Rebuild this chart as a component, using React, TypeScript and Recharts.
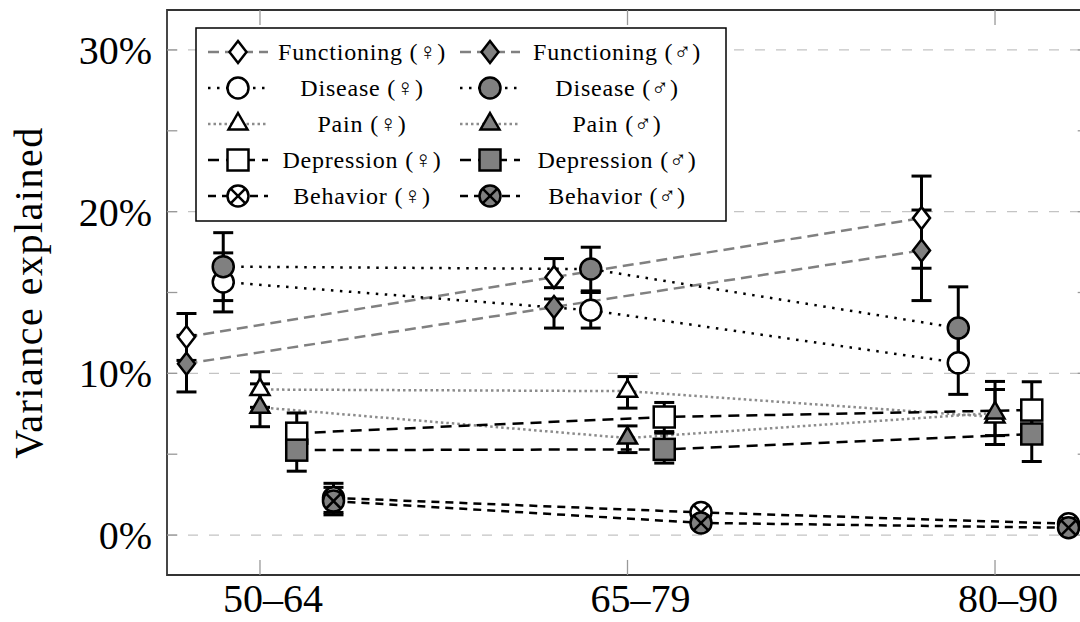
import {
  LineChart,
  Line,
  XAxis,
  YAxis,
  CartesianGrid,
  ErrorBar,
  ReferenceArea,
  ReferenceLine,
} from 'recharts';

// age groups on the x axis
const ageGroups = ['50–64', '65–79', '80–90'];
const yTicks = [0, 10, 20, 30];
const yMinorTicks = [5, 15, 25];

// variance explained (%) and [low, high] errors, read per age group
const functioningF = [12.25, 15.95, 19.6];
const functioningFErr = [[1.45, 1.45], [0.65, 1.15], [3.1, 2.6]];
const functioningM = [10.6, 14.1, 17.6];
const functioningMErr = [[1.75, 1.75], [1.3, 0.5], [3.1, 2.5]];
const diseaseF = [15.65, 13.9, 10.65];
const diseaseFErr = [[1.85, 1.8], [1.1, 1.1], [1.95, 1.95]];
const diseaseM = [16.6, 16.45, 12.8];
const diseaseMErr = [[2.1, 2.1], [1.35, 1.35], [2.55, 2.55]];
const painF = [9.0, 8.9, 7.3];
const painFErr = [[1.1, 1.1], [1.05, 0.9], [1.7, 1.7]];
const painM = [7.9, 6.0, 7.55];
const painMErr = [[1.2, 1.45], [0.9, 0.75], [1.4, 1.95]];
const depressionF = [6.3, 7.3, 7.73];
const depressionFErr = [[1.25, 1.25], [0.9, 0.9], [1.75, 1.75]];
const depressionM = [5.25, 5.3, 6.25];
const depressionMErr = [[1.3, 1.3], [0.85, 1.0], [1.7, 1.7]];
const behaviorF = [2.3, 1.4, 0.7];
const behaviorFErr = [[0.9, 0.9], [0.3, 0.3], [0.25, 0.25]];
const behaviorM = [2.1, 0.75, 0.45];
const behaviorMErr = [[0.85, 0.85], [0.3, 0.3], [0.25, 0.25]];

const FONT = '"Liberation Serif", "DejaVu Serif", serif';
const X_DOMAIN: [number, number] = [-0.253, 2.253];
const Y_DOMAIN: [number, number] = [-2.47, 32.47];
const FEMALE_FILL = '#ffffff';
const MALE_FILL = '#808080';

type Shape = 'diamond' | 'circle' | 'triangle' | 'square' | 'otimes';

interface Domain {
  name: string;
  shape: Shape;
  stroke: string;
  dash: string;
  offset: number;
  female: number[];
  femaleErr: number[][];
  male: number[];
  maleErr: number[][];
}

const domains: Domain[] = [
  { name: 'Functioning', shape: 'diamond', stroke: '#808080', dash: '11 6', offset: -0.2, female: functioningF, femaleErr: functioningFErr, male: functioningM, maleErr: functioningMErr },
  { name: 'Disease', shape: 'circle', stroke: '#000000', dash: '2.5 6.5', offset: -0.1, female: diseaseF, femaleErr: diseaseFErr, male: diseaseM, maleErr: diseaseMErr },
  { name: 'Pain', shape: 'triangle', stroke: '#8c8c8c', dash: '2.5 3', offset: 0, female: painF, femaleErr: painFErr, male: painM, maleErr: painMErr },
  { name: 'Depression', shape: 'square', stroke: '#000000', dash: '11 7', offset: 0.1, female: depressionF, femaleErr: depressionFErr, male: depressionM, maleErr: depressionMErr },
  { name: 'Behavior', shape: 'otimes', stroke: '#000000', dash: '8 6', offset: 0.2, female: behaviorF, femaleErr: behaviorFErr, male: behaviorM, maleErr: behaviorMErr },
];

const Marker = ({ shape, cx, cy, fill }: { shape: Shape; cx: number; cy: number; fill: string }) => {
  const common = { fill, stroke: '#000', strokeWidth: 2.5 };
  if (cx == null || cy == null) return null;
  switch (shape) {
    case 'diamond':
      return <polygon {...common} points={`${cx},${cy - 11} ${cx + 8.5},${cy} ${cx},${cy + 11} ${cx - 8.5},${cy}`} />;
    case 'circle':
      return <circle {...common} cx={cx} cy={cy} r={10.5} />;
    case 'triangle':
      return <polygon {...common} points={`${cx},${cy - 11} ${cx + 9.5},${cy + 5.5} ${cx - 9.5},${cy + 5.5}`} />;
    case 'square':
      return <rect {...common} x={cx - 10.5} y={cy - 10.5} width={21} height={21} />;
    default: {
      const d = 7.4;
      return (
        <g>
          <circle {...common} cx={cx} cy={cy} r={10.5} />
          <line x1={cx - d} y1={cy - d} x2={cx + d} y2={cy + d} stroke="#000" strokeWidth={2.5} />
          <line x1={cx - d} y1={cy + d} x2={cx + d} y2={cy - d} stroke="#000" strokeWidth={2.5} />
        </g>
      );
    }
  }
};

const series = domains.flatMap((d) => [
  { key: `${d.name}-f`, domain: d, fill: FEMALE_FILL, label: `${d.name} (♀)`, values: d.female, errs: d.femaleErr },
  { key: `${d.name}-m`, domain: d, fill: MALE_FILL, label: `${d.name} (♂)`, values: d.male, errs: d.maleErr },
]);

const XTick = ({ x, y, payload }: any) => (
  <text x={x + 13} y={y + 35} textAnchor="middle" fontFamily={FONT} fontSize={40} fill="#000">
    {ageGroups[payload.value]}
  </text>
);

const YTick = ({ x, y, payload }: any) => (
  <text x={x} y={y} dy="0.35em" textAnchor="end" fontFamily={FONT} fontSize={40} fill="#000">
    {`${payload.value}%`}
  </text>
);

const YLabel = ({ viewBox }: any) => {
  const cx = (viewBox?.x ?? 0) + 42;
  const cy = (viewBox?.y ?? 0) + (viewBox?.height ?? 0) / 2;
  return (
    <text
      x={cx}
      y={cy}
      transform={`rotate(-90, ${cx}, ${cy})`}
      textAnchor="middle"
      fontFamily={FONT}
      fontSize={40}
      letterSpacing={1.5}
      fill="#000"
    >
      Variance explained
    </text>
  );
};

const LegendBox = () => {
  const rowH = 36;
  const colX = [0, 252];
  return (
    <svg
      width={532}
      height={195}
      style={{ position: 'absolute', left: 195, top: 27, fontFamily: FONT }}
    >
      <rect x={1} y={1} width={530} height={193} fill="#fff" stroke="#000" strokeWidth={1.5} />
      {series.map((s, i) => {
        const row = Math.floor(i / 2);
        const col = i % 2;
        const y = 25 + row * rowH;
        const x0 = colX[col] + 13;
        return (
          <g key={s.key}>
            <line x1={x0} y1={y} x2={x0 + 60} y2={y} stroke={s.domain.stroke} strokeWidth={2.5} strokeDasharray={s.domain.dash} />
            <Marker shape={s.domain.shape} cx={x0 + 30} cy={y} fill={s.fill} />
            <text
              x={colX[col] + 167 + col * 3}
              y={y}
              dy="0.33em"
              textAnchor="middle"
              fontFamily={FONT}
              fontSize={24}
              letterSpacing={0.8}
              fill="#000"
            >
              {s.label}
            </text>
          </g>
        );
      })}
    </svg>
  );
};

export default function App() {
  return (
    <div style={{ position: 'absolute', left: 0, top: 0, width: 1080, height: 622, overflow: 'hidden', background: '#fff' }}>
      <LineChart width={1100} height={622} margin={{ top: 10, right: 12, bottom: 0, left: 0 }}>
        <CartesianGrid vertical={false} stroke="#c4c4c4" strokeWidth={1.3} strokeDasharray="10 11" />
        <XAxis
          type="number"
          dataKey="x"
          domain={X_DOMAIN}
          ticks={[0, 1, 2]}
          allowDataOverflow
          height={47}
          axisLine={false}
          tickLine={false}
          tickSize={0}
          tick={<XTick />}
        />
        <YAxis
          type="number"
          domain={Y_DOMAIN}
          ticks={yTicks}
          allowDataOverflow
          width={167}
          axisLine={false}
          tickLine={false}
          tickSize={0}
          tickMargin={15}
          tick={<YTick />}
          label={<YLabel />}
        />
        {ageGroups.map((_, i) => (
          <ReferenceLine key={`xb${i}`} segment={[{ x: i, y: Y_DOMAIN[0] }, { x: i, y: Y_DOMAIN[0] + 0.93 }]} stroke="#999" strokeWidth={1.3} />
        ))}
        {ageGroups.map((_, i) => (
          <ReferenceLine key={`xt${i}`} segment={[{ x: i, y: Y_DOMAIN[1] }, { x: i, y: Y_DOMAIN[1] - 0.93 }]} stroke="#999" strokeWidth={1.3} />
        ))}
        {[...yTicks, ...yMinorTicks].map((v) => (
          <ReferenceLine key={`yl${v}`} segment={[{ x: X_DOMAIN[0], y: v }, { x: X_DOMAIN[0] + 0.028, y: v }]} stroke="#999" strokeWidth={1.3} />
        ))}
        {[...yTicks, ...yMinorTicks].map((v) => (
          <ReferenceLine key={`yr${v}`} segment={[{ x: X_DOMAIN[1], y: v }, { x: X_DOMAIN[1] - 0.028, y: v }]} stroke="#999" strokeWidth={1.3} />
        ))}
        {series.map((s) => (
          <Line
            key={s.key}
            data={s.values.map((v, i) => ({ x: i + s.domain.offset, y: v, err: s.errs[i] }))}
            dataKey="y"
            type="linear"
            stroke={s.domain.stroke}
            strokeWidth={2.5}
            strokeDasharray={s.domain.dash}
            isAnimationActive={false}
            dot={(p: any) => <Marker key={`${s.key}-${p.index}`} shape={s.domain.shape} cx={p.cx} cy={p.cy} fill={s.fill} />}
            activeDot={false}
          >
            <ErrorBar dataKey="err" direction="y" width={10} stroke="#000" strokeWidth={3} isAnimationActive={false} />
          </Line>
        ))}
        <ReferenceArea x1={X_DOMAIN[0]} x2={X_DOMAIN[1]} y1={Y_DOMAIN[0]} y2={Y_DOMAIN[1]} fill="none" fillOpacity={0} stroke="#333" strokeWidth={1.8} />
      </LineChart>
      <LegendBox />
    </div>
  );
}
